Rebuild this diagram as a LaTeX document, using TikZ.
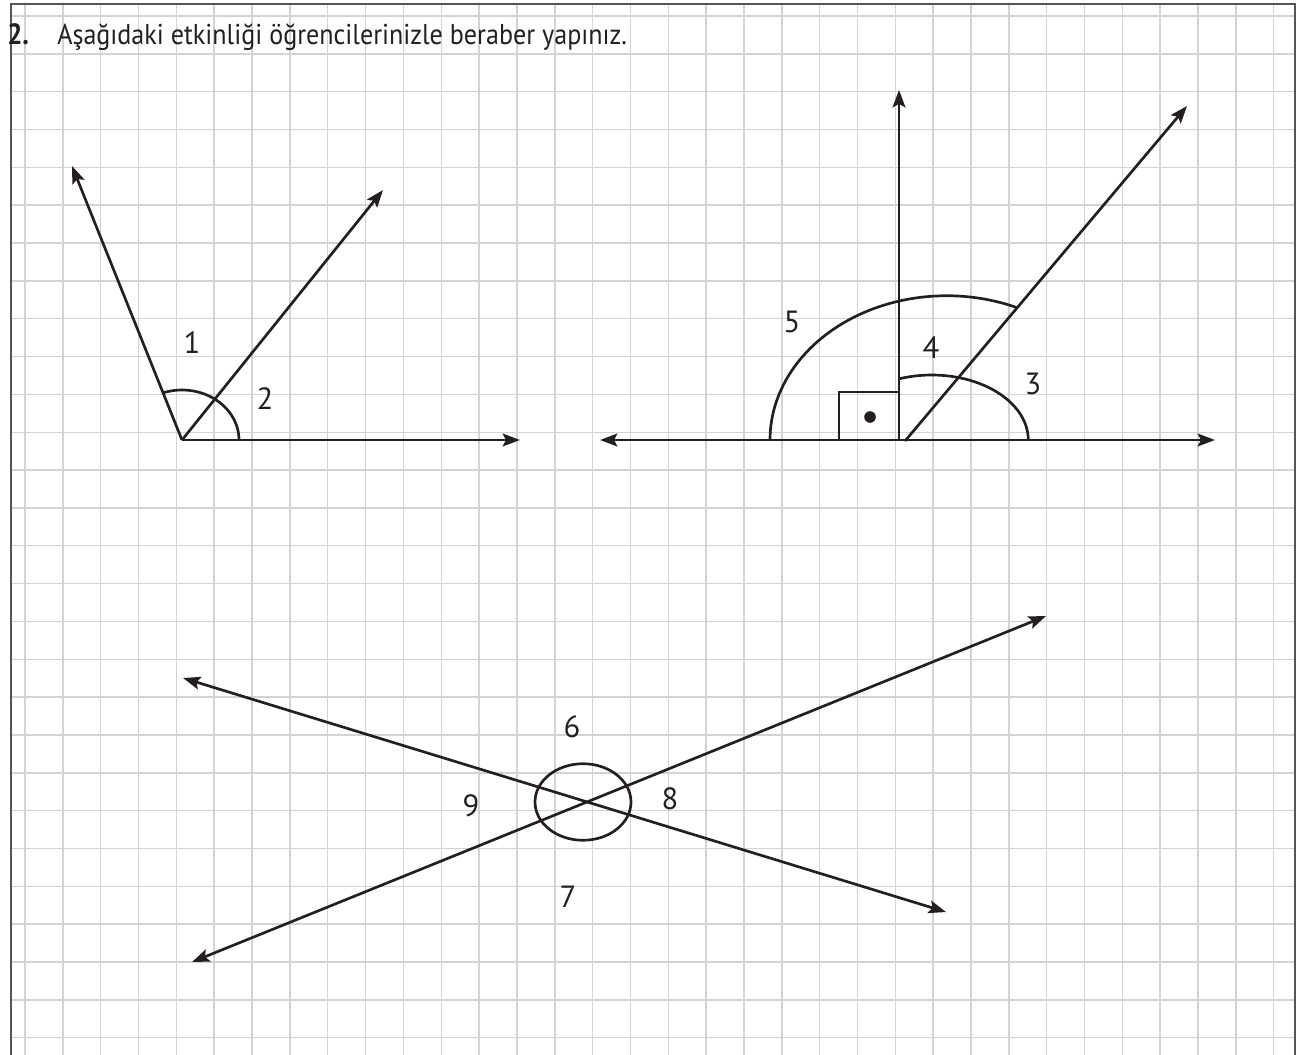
\documentclass[tikz,border=0pt]{standalone}
\usepackage{fontspec}
\setmainfont{PT Sans}
\newfontfamily\titlefont[FakeStretch=0.91]{PT Sans}
\usetikzlibrary{arrows.meta,calc}
\definecolor{ink}{HTML}{231F20}
\definecolor{gridc}{HTML}{D3D3D3}
\definecolor{framec}{HTML}{555555}
\begin{document}
\begin{tikzpicture}[x=0.75pt,y=-0.75pt,
  gridline/.style={draw=gridc,line width=1.1pt},
  framel/.style={draw=framec,line width=1.5pt},
  ln/.style={draw=ink,line width=2pt},
  tip/.style={-{Stealth[length=13pt,width=9.6pt,inset=2.5pt]}},
  tips/.style={{Stealth[length=13pt,width=9.6pt,inset=2.5pt]}-{Stealth[length=13pt,width=9.6pt,inset=2.5pt]}},
  arcl/.style={draw=ink,line width=2pt},
  lab/.style={text=ink,font=\fontsize{23pt}{27pt}\selectfont,inner sep=0pt},
  ttl/.style={text=ink,font=\titlefont\fontsize{21.5pt}{25pt}\selectfont,inner sep=0pt}]
\useasboundingbox (0,0) rectangle (1302,1055);
% grid
\foreach \i in {0,...,33} \draw[gridline] ({25+37.84*\i},4) -- ({25+37.84*\i},1055);
\foreach \j in {0,...,27} \draw[gridline] (11,{16+37.84*\j}) -- (1295,{16+37.84*\j});
% frame
\draw[framel] (11,1055) -- (11,4) -- (1295,4) -- (1295,1055);
% title
\node[ttl,anchor=base west,font=\titlefont\bfseries\fontsize{22pt}{25pt}\selectfont] (num) at (7,45) {2.};
\node[ttl,anchor=base west] (title) at (57,45) {Aşağıdaki etkinliği öğrencilerinizle beraber yapınız.};
% figure 1
\coordinate (O1) at (182,440);
\coordinate (A1) at (72,166);
\coordinate (B1) at (383,190);
\coordinate (C1) at (520,440);
\draw[ln,tip] (O1) -- (A1);
\draw[ln,tip] (O1) -- (B1);
\draw[ln,tip] (O1) -- (C1);
\draw[arcl] ($(O1)+(57,0)$) arc[start angle=0,end angle=109.5,x radius=42.75pt,y radius=37.5pt];
\node[lab] (l1) at (192,343) {1};
\node[lab] (l2) at (265,399) {2};
% figure 2
\coordinate (O2) at (899,440);
\coordinate (L2) at (600,440);
\coordinate (R2) at (1215,440);
\coordinate (U2) at (899,90);
\coordinate (P2) at (905,441);
\coordinate (Q2) at (1187,106);
\coordinate (S2) at (931.7,440);
\coordinate (T2) at (946.7,440);
\draw[ln,tips] (L2) -- (R2);
\draw[ln,tip] (O2) -- (U2);
\draw[ln,tip] (P2) -- (Q2);
\draw[arcl] ($(S2)+(96.6,0)$) arc[start angle=0,end angle=110.2,x radius=72.45pt,y radius=48.75pt];
\draw[arcl] ($(T2)+(-176.7,0)$) arc[start angle=180,end angle=66.7,x radius=132.5pt,y radius=108.2pt];
\draw[draw=ink,line width=0.8pt] (839,392) rectangle (O2);
\fill[ink] (870,417) circle[radius=4.35pt];
\node[lab] (l5) at (792,322) {5};
\node[lab] (l4) at (931,348) {4};
\node[lab] (l3) at (1033,384) {3};
% figure 3
\coordinate (A3) at (183,678);
\coordinate (B3) at (946,912);
\coordinate (C3) at (192,962);
\coordinate (D3) at (1046,616);
\coordinate (E3) at (583,802);
\draw[ln,tips] (A3) -- (B3);
\draw[ln,tips] (C3) -- (D3);
\draw[arcl] (E3) ellipse[x radius=36pt,y radius=28.7pt];
\node[lab] (l6) at (572,727) {6};
\node[lab] (l7) at (568,897) {7};
\node[lab] (l8) at (670,799) {8};
\node[lab] (l9) at (471,806) {9};
\end{tikzpicture}
\end{document}
